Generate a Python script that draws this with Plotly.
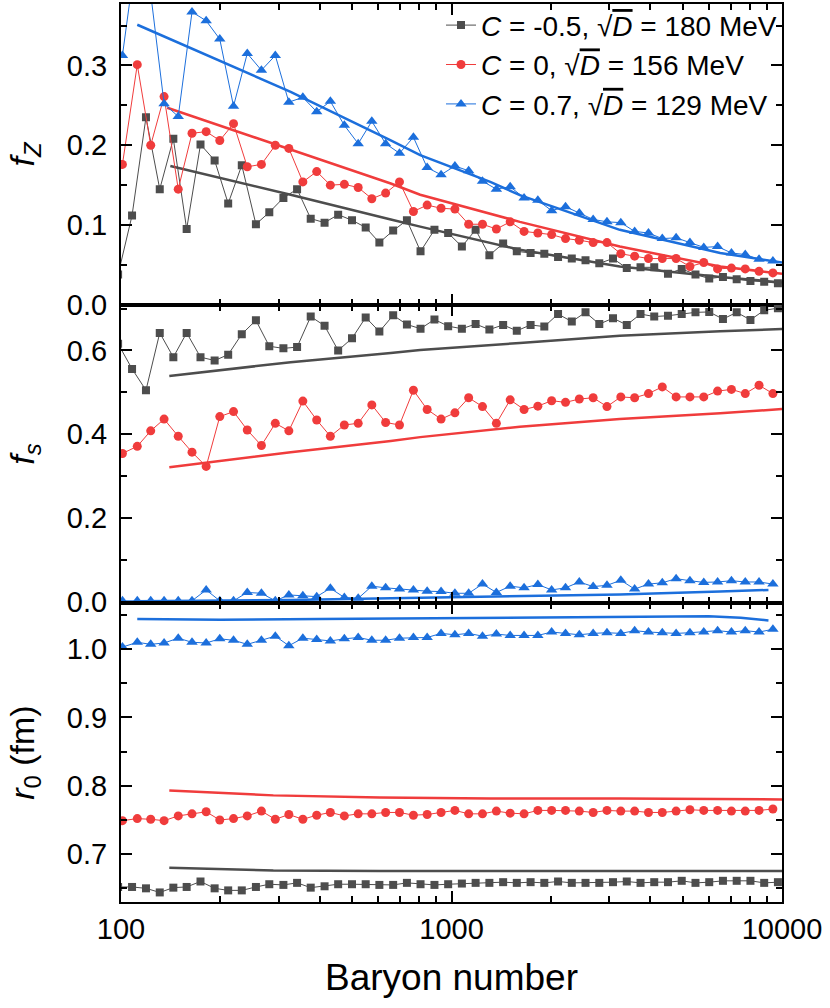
import plotly.graph_objects as go
from plotly.subplots import make_subplots

# baryon numbers of the two sample grids
a_gray = [98, 108, 119, 131, 144, 158, 174, 192, 211, 232, 256, 281, 310, 341, 375, 413,
          454, 500, 550, 605, 666, 733, 806, 888, 977, 1075, 1183, 1302, 1433, 1576, 1735,
          1909, 2101, 2312, 2544, 2800, 3081, 3391, 3732, 4106, 4519, 4973, 5473, 6023,
          6627, 7293, 8026, 8833, 9720]
a_rb = [101, 112, 123, 135, 149, 164, 181, 199, 219, 241, 266, 293, 322, 355, 391, 430,
        474, 522, 574, 632, 696, 767, 844, 930, 1024, 1127, 1241, 1367, 1505, 1658, 1825,
        2009, 2213, 2436, 2683, 2954, 3253, 3582, 3944, 4343, 4782, 5265, 5798, 6384,
        7031, 7741, 8522, 9386]

# f_Z
fz_gray = [0.038, 0.112, 0.235, 0.145, 0.208, 0.095, 0.201, 0.181, 0.127, 0.175, 0.101,
           0.116, 0.134, 0.145, 0.108, 0.103, 0.113, 0.106, 0.097, 0.078, 0.093, 0.106,
           0.067, 0.094, 0.090, 0.073, 0.094, 0.062, 0.077, 0.067, 0.065, 0.064, 0.060,
           0.058, 0.056, 0.052, 0.058, 0.046, 0.047, 0.047, 0.039, 0.045, 0.038, 0.033,
           0.035, 0.032, 0.030, 0.029, 0.027]
fz_red = [0.176, 0.301, 0.200, 0.261, 0.145, 0.215, 0.217, 0.206, 0.227, 0.173, 0.176,
          0.200, 0.196, 0.154, 0.167, 0.150, 0.151, 0.147, 0.133, 0.140, 0.154, 0.117,
          0.125, 0.121, 0.120, 0.101, 0.101, 0.095, 0.104, 0.092, 0.090, 0.088, 0.083,
          0.081, 0.078, 0.078, 0.064, 0.061, 0.058, 0.058, 0.058, 0.048, 0.053, 0.045,
          0.046, 0.045, 0.042, 0.040]
fz_blue = [0.3125, 0.45, 0.39, 0.252, 0.236, 0.367, 0.356, 0.333, 0.249, 0.315, 0.294,
           0.3125, 0.254, 0.260, 0.242, 0.255, 0.225, 0.202, 0.230, 0.202, 0.190, 0.210,
           0.172, 0.163, 0.174, 0.168, 0.155, 0.145, 0.148, 0.134, 0.131, 0.118, 0.123,
           0.115, 0.107, 0.104, 0.103, 0.092, 0.090, 0.083, 0.084, 0.078, 0.072, 0.073,
           0.065, 0.063, 0.057, 0.055]

# f_s
fs_gray = [0.616, 0.556, 0.505, 0.642, 0.584, 0.642, 0.584, 0.576, 0.590, 0.639, 0.672,
           0.610, 0.605, 0.608, 0.681, 0.659, 0.600, 0.629, 0.679, 0.645, 0.684, 0.662,
           0.652, 0.674, 0.658, 0.652, 0.663, 0.650, 0.661, 0.647, 0.661, 0.657, 0.687,
           0.669, 0.691, 0.663, 0.677, 0.661, 0.687, 0.681, 0.683, 0.687, 0.691, 0.692,
           0.675, 0.691, 0.673, 0.696, 0.701]
fs_red = [0.354, 0.371, 0.408, 0.436, 0.395, 0.357, 0.323, 0.442, 0.454, 0.410, 0.373,
          0.426, 0.408, 0.479, 0.434, 0.395, 0.422, 0.426, 0.470, 0.428, 0.422, 0.505,
          0.459, 0.436, 0.451, 0.487, 0.466, 0.426, 0.482, 0.459, 0.467, 0.480, 0.476,
          0.484, 0.487, 0.466, 0.489, 0.487, 0.497, 0.513, 0.489, 0.489, 0.489, 0.503,
          0.507, 0.497, 0.517, 0.497]
fs_blue = [0.002, 0.002, 0.002, 0.002, 0.002, 0.002, 0.028, 0.002, 0.002, 0.022, 0.020,
           0.002, 0.016, 0.014, 0.012, 0.032, 0.010, 0.008, 0.037, 0.033, 0.030, 0.028,
           0.025, 0.024, 0.020, 0.020, 0.042, 0.022, 0.037, 0.033, 0.041, 0.028, 0.033,
           0.047, 0.036, 0.039, 0.051, 0.030, 0.042, 0.045, 0.055, 0.050, 0.046, 0.047,
           0.050, 0.047, 0.047, 0.042]

# r_0 (fm)
r0_gray = [0.652, 0.652, 0.650, 0.644, 0.651, 0.652, 0.660, 0.650, 0.647, 0.647, 0.652,
           0.656, 0.655, 0.658, 0.651, 0.653, 0.656, 0.656, 0.656, 0.655, 0.655, 0.658,
           0.656, 0.655, 0.656, 0.657, 0.658, 0.658, 0.659, 0.658, 0.659, 0.658, 0.660,
           0.658, 0.658, 0.658, 0.659, 0.660, 0.658, 0.659, 0.659, 0.661, 0.658, 0.659,
           0.661, 0.661, 0.661, 0.658, 0.659]
r0_red = [0.749, 0.752, 0.751, 0.749, 0.756, 0.759, 0.762, 0.750, 0.752, 0.756, 0.763,
          0.751, 0.758, 0.751, 0.757, 0.761, 0.756, 0.759, 0.759, 0.761, 0.761, 0.757,
          0.758, 0.761, 0.764, 0.759, 0.759, 0.763, 0.760, 0.759, 0.764, 0.764, 0.764,
          0.763, 0.761, 0.764, 0.763, 0.763, 0.761, 0.761, 0.763, 0.765, 0.764, 0.764,
          0.763, 0.763, 0.764, 0.766]
r0_blue = [1.003, 1.010, 1.007, 1.009, 1.016, 1.010, 1.009, 1.015, 1.013, 1.007, 1.013,
           1.019, 1.005, 1.016, 1.014, 1.012, 1.015, 1.017, 1.013, 1.013, 1.016, 1.017,
           1.017, 1.023, 1.021, 1.023, 1.019, 1.022, 1.020, 1.020, 1.020, 1.025, 1.023,
           1.021, 1.023, 1.024, 1.023, 1.027, 1.025, 1.024, 1.023, 1.024, 1.025, 1.027,
           1.025, 1.027, 1.025, 1.029]

# smooth model curves
fit_a_gray = [141, 326, 655, 804, 1610, 3230, 6500, 10000]
fit_fz_gray = [0.174, 0.138, 0.107, 0.098, 0.069, 0.048, 0.035, 0.028]
fit_a_red = [138, 326, 655, 804, 1610, 3230, 6500, 10000]
fit_fz_red = [0.247, 0.195, 0.152, 0.138, 0.104, 0.073, 0.048, 0.039]
fit_a_blue = [112, 326, 655, 804, 1310, 1610, 3230, 6500, 10000]
fit_fz_blue = [0.351, 0.267, 0.206, 0.1875, 0.154, 0.1375, 0.094, 0.065, 0.053]

fit_fs_a_gray = [140, 326, 655, 804, 1610, 3230, 6500, 10000]
fit_fs_gray = [0.539, 0.572, 0.594, 0.601, 0.618, 0.635, 0.646, 0.651]
fit_fs_a_red = [140, 326, 655, 804, 1610, 3230, 6500, 10000]
fit_fs_red = [0.321, 0.357, 0.384, 0.393, 0.418, 0.436, 0.450, 0.460]
fit_fs_a_blue = [112, 326, 655, 1310, 1610, 3230, 6500, 9100]
fit_fs_blue = [0.001, 0.004, 0.008, 0.012, 0.014, 0.017, 0.024, 0.028]

fit_r0_a_gray = [140, 289, 607, 1310, 3230, 10000]
fit_r0_gray = [0.680, 0.676, 0.6755, 0.6755, 0.6755, 0.6755]
fit_r0_a_red = [140, 289, 607, 1310, 3230, 10000]
fit_r0_red = [0.793, 0.786, 0.783, 0.7815, 0.7815, 0.780]
fit_r0_a_blue = [112, 200, 400, 1000, 3000, 6000, 7500, 9100]
fit_r0_blue = [1.044, 1.043, 1.044, 1.045, 1.047, 1.048, 1.046, 1.042]

GRAY = '#4d4d4d'
RED = '#f03c3c'
BLUE = '#1c6fdc'
FONT = 'Liberation Sans, Arial, sans-serif'

names = ['<i>C</i> = -0.5, √<span style="text-decoration:overline"><i>D</i></span> = 180 MeV',
         '<i>C</i> = 0, √<span style="text-decoration:overline"><i>D</i></span> = 156 MeV',
         '<i>C</i> = 0.7, √<span style="text-decoration:overline"><i>D</i></span> = 129 MeV']

fig = make_subplots(rows=3, cols=1, shared_xaxes=True, vertical_spacing=0)

panels = [
    (1, [(a_gray, fz_gray), (a_rb, fz_red), (a_rb, fz_blue)],
     [(fit_a_gray, fit_fz_gray), (fit_a_red, fit_fz_red), (fit_a_blue, fit_fz_blue)]),
    (2, [(a_gray, fs_gray), (a_rb, fs_red), (a_rb, fs_blue)],
     [(fit_fs_a_gray, fit_fs_gray), (fit_fs_a_red, fit_fs_red), (fit_fs_a_blue, fit_fs_blue)]),
    (3, [(a_gray, r0_gray), (a_rb, r0_red), (a_rb, r0_blue)],
     [(fit_r0_a_gray, fit_r0_gray), (fit_r0_a_red, fit_r0_red), (fit_r0_a_blue, fit_r0_blue)]),
]
colors = [GRAY, RED, BLUE]
symbols = ['square', 'circle', 'triangle-up']
sizes = [8, 9, 10]

for row, pts, fits in panels:
    for i, (x, y) in enumerate(fits):
        fig.add_trace(go.Scatter(x=x, y=y, mode='lines', showlegend=False,
                                 line=dict(color=colors[i], width=2.5)),
                      row=row, col=1)
    for i, (x, y) in enumerate(pts):
        fig.add_trace(go.Scatter(x=x, y=y, mode='lines+markers', name=names[i],
                                 showlegend=(row == 1),
                                 line=dict(color=colors[i], width=1),
                                 marker=dict(symbol=symbols[i], size=sizes[i], color=colors[i])),
                      row=row, col=1)

minor_x = [200, 300, 400, 500, 600, 700, 800, 900,
           2000, 3000, 4000, 5000, 6000, 7000, 8000, 9000]
axis_common = dict(showline=True, linewidth=2, linecolor='black', mirror='ticks',
                   ticks='inside', ticklen=11, tickwidth=2, tickcolor='black',
                   showgrid=False, zeroline=False,
                   tickfont=dict(family=FONT, size=29, color='black'))

for r in (1, 2, 3):
    fig.update_xaxes(type='log', range=[2, 4], tickvals=[100, 1000, 10000],
                     ticktext=['100', '1000', '10000'], showticklabels=(r == 3),
                     minor=dict(tickvals=minor_x, ticks='inside', ticklen=6, tickwidth=2,
                                tickcolor='black', showgrid=False),
                     **axis_common, row=r, col=1)

fig.update_xaxes(title=dict(text='Baryon number', font=dict(family=FONT, size=37, color='black'),
                            standoff=20), row=3, col=1)

ytitle_font = dict(family=FONT, size=34, color='black')
ymin = dict(ticks='inside', ticklen=6, tickwidth=2, tickcolor='black')
fig.update_yaxes(range=[0, 0.377], dtick=0.1, tickformat='.1f', domain=[0.665, 1.0],
                 minor=dict(dtick=0.05, **ymin), ticklabelstandoff=6,
                 title=dict(text='<i>f</i><sub><i>Z</i></sub>', font=ytitle_font, standoff=22),
                 **axis_common, row=1, col=1)
fig.update_yaxes(range=[-0.004, 0.709], dtick=0.2, tickformat='.1f', domain=[0.3326, 0.665],
                 minor=dict(dtick=0.1, **ymin), ticklabelstandoff=6,
                 title=dict(text='<i>f</i><sub><i>s</i></sub>', font=ytitle_font, standoff=22),
                 **axis_common, row=2, col=1)
fig.update_yaxes(range=[0.630, 1.067], dtick=0.1, tickformat='.1f', domain=[0.0, 0.3326],
                 minor=dict(dtick=0.05, **ymin), ticklabelstandoff=6,
                 title=dict(text='<i>r</i><sub>0</sub> (fm)', font=ytitle_font, standoff=22),
                 **axis_common, row=3, col=1)

fig.update_layout(
    width=830, height=1008,
    margin=dict(l=121, r=48, t=0, b=106),
    plot_bgcolor='white', paper_bgcolor='white',
    font=dict(family=FONT, color='black'),
    legend=dict(x=1.0, xanchor='right', y=1.004, yanchor='top',
                font=dict(family=FONT, size=28, color='black'),
                bgcolor='rgba(0,0,0,0)', tracegroupgap=0),
)

fig.write_html("out.html", config={'displayModeBar': False},
               post_script="document.body.style.margin='0px';")
